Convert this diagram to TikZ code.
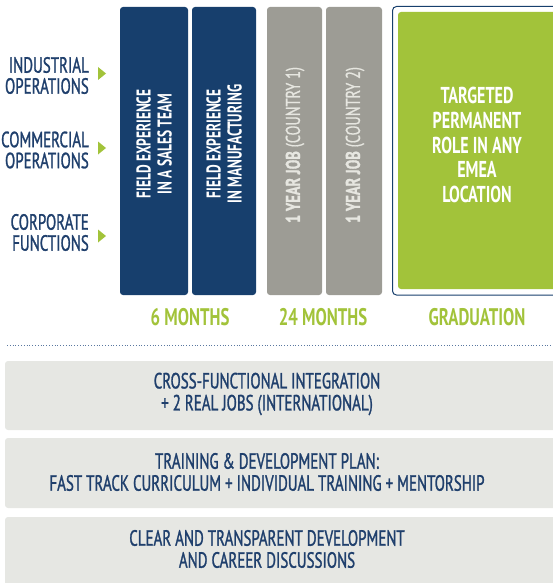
\documentclass[tikz,border=0pt]{standalone}
\usepackage{fontspec}
\setmainfont{PT Sans}[FakeStretch=0.68, FakeBold=1.2]
\newfontfamily\colfont{PT Sans}[FakeStretch=0.67]
\newfontfamily\wideboldfont{PT Sans}[FakeStretch=0.70]
\newfontfamily\stonefont{PT Sans}[FakeStretch=0.72, FakeBold=0.8]
\definecolor{navy}{HTML}{173F6D}
\definecolor{labelnavy}{HTML}{1F3F6C}
\definecolor{stone}{HTML}{9D9C95}
\definecolor{stonetext}{HTML}{E6E6E0}
\definecolor{lime}{HTML}{A2C33A}
\definecolor{panel}{HTML}{E6E7E3}
\definecolor{dots}{HTML}{5A78A0}
\tikzset{
  navybox/.style={fill=navy, rounded corners=3pt},
  stonebox/.style={fill=stone, rounded corners=3pt},
  panelbox/.style={fill=panel, rounded corners=3pt},
  sidelabel/.style={anchor=east, align=right, text=labelnavy, inner sep=0pt,
    font=\fontsize{22}{21}\selectfont},
  vertlabel/.style={rotate=90, align=center, text=white, inner sep=0pt,
    font=\colfont\fontsize{20}{21}\selectfont\bfseries},
  stonelabel/.style={rotate=90, align=center, text=stonetext, inner sep=0pt,
    font=\stonefont\fontsize{20}{21}\selectfont},
  phaselabel/.style={text=lime, inner sep=0pt, font=\wideboldfont\fontsize{24}{24}\selectfont\bfseries},
  panellabel/.style={align=center, text=labelnavy, inner sep=0pt,
    font=\fontsize{22}{22}\selectfont},
  tri/.style={fill=lime}
}
\begin{document}
\begin{tikzpicture}[x=1pt,y=-1pt]
\useasboundingbox (0,0) rectangle (553,583);
\clip (0,0) rectangle (553,583);

% left labels
\node[sidelabel] (ind) at (89,75.5) {INDUSTRIAL\\OPERATIONS};
\node[sidelabel] (com) at (89,150) {COMMERCIAL\\OPERATIONS};
\node[sidelabel] (cor) at (89,232.5) {CORPORATE\\FUNCTIONS};
\fill[tri] (98,67) -- (106,73.5) -- (98,80) -- cycle;
\fill[tri] (98,141.5) -- (106,148) -- (98,154.5) -- cycle;
\fill[tri] (98,229.5) -- (106,236) -- (98,242.5) -- cycle;

% navy columns
\path[navybox] (120,7) rectangle (188,295);
\path[navybox] (192,7) rectangle (256,295);
\node[vertlabel] (fs) at (154,144) {FIELD EXPERIENCE\\IN A SALES TEAM};
\node[vertlabel] (fm) at (224,144) {FIELD EXPERIENCE\\IN MANUFACTURING};

% stone columns
\path[stonebox] (267,7) rectangle (322,295);
\path[stonebox] (326,7) rectangle (382,295);
\node[stonelabel] (j1) at (295,145) {\textbf{1 YEAR JOB} (COUNTRY 1)};
\node[stonelabel] (j2) at (355,145) {\textbf{1 YEAR JOB} (COUNTRY 2)};

% graduation
\draw[navy, line width=1pt, rounded corners=4pt] (392.5,6.5) rectangle (580,295);
\path[fill=lime, rounded corners=3pt] (398,12) rectangle (580,289);
\node[align=center, text=white, inner sep=0pt,
  font=\wideboldfont\fontsize{23}{24.75}\selectfont\bfseries] (tp) at (477,145)
  {TARGETED\\PERMANENT\\ROLE IN ANY\\EMEA\\LOCATION};

% phase labels
\node[phaselabel] (p6) at (190,317) {6 MONTHS};
\node[phaselabel] (p24) at (323,317) {24 MONTHS};
\node[phaselabel] (pg) at (477,317) {GRADUATION};

% dotted separator
\draw[dots, line width=0.8pt, dash pattern=on 0.8pt off 2pt] (7,345) -- (553,345);

% panels
\path[panelbox] (5,361) rectangle (580,430);
\path[panelbox] (5,438) rectangle (580,508);
\path[panelbox] (5,517) rectangle (580,600);
\node[panellabel] (b1) at (267,394) {CROSS-FUNCTIONAL INTEGRATION\\+ 2 REAL JOBS (INTERNATIONAL)};
\node[panellabel] (b2) at (267,472) {TRAINING \& DEVELOPMENT PLAN:\\FAST TRACK CURRICULUM + INDIVIDUAL TRAINING + MENTORSHIP};
\node[panellabel] (b3) at (267,549) {CLEAR AND TRANSPARENT DEVELOPMENT\\AND CAREER DISCUSSIONS};
\end{tikzpicture}
\end{document}
